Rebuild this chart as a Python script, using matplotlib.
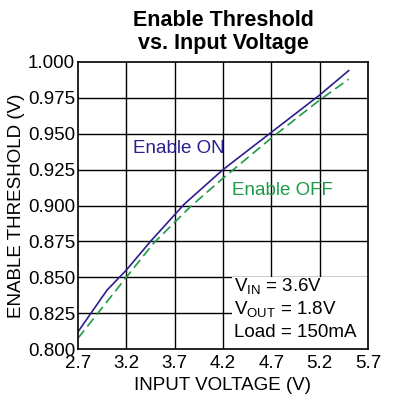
import matplotlib
matplotlib.use("Agg")
import matplotlib.pyplot as plt
from matplotlib.patches import Rectangle

plt.rcParams['font.family'] = ['Liberation Sans', 'DejaVu Sans']

on_x = [2.7, 3.0, 3.2, 3.45, 3.8, 4.2, 4.7, 5.2, 5.5]
on_y = [0.812, 0.841, 0.855, 0.875, 0.901, 0.925, 0.951, 0.977, 0.994]
off_x = [2.7, 3.2, 3.48, 3.86, 4.2, 4.7, 5.2, 5.5]
off_y = [0.8075, 0.850, 0.8736, 0.899, 0.919, 0.947, 0.9735, 0.988]

x_ticks = [2.7, 3.2, 3.7, 4.2, 4.7, 5.2, 5.7]
y_ticks = [0.800, 0.825, 0.850, 0.875, 0.900, 0.925, 0.950, 0.975, 1.000]

ON_COLOR = '#2b1f8f'
OFF_COLOR = '#1e9a48'
FS = 13.5

fig = plt.figure(figsize=(4, 4), dpi=100)
ax = fig.add_axes([78/400, 1-349/400, 290/400, 287/400])
ax.set_xlim(2.7, 5.7)
ax.set_ylim(0.8, 1.0)

for xt in x_ticks[1:-1]:
    ax.axvline(xt, color='black', lw=1.0, zorder=1)
for yt in y_ticks[1:-1]:
    ax.axhline(yt, color='black', lw=1.0, zorder=1)

ax.plot(on_x, on_y, color=ON_COLOR, lw=1.2, zorder=3)
ax.plot(off_x, off_y, color=OFF_COLOR, lw=1.2, ls=(0, (6, 3)), zorder=3)

# white box behind annotation
ax.add_patch(Rectangle((4.29, 0.8), 5.7 - 4.29, 0.8505 - 0.8, transform=ax.transData,
                       facecolor='white', edgecolor='none', zorder=2))
ax.text(4.31, 0.8435, r'V$_{\mathregular{IN}}$ = 3.6V', fontsize=FS, va='center', ha='left', zorder=4)
ax.text(4.31, 0.8270, r'V$_{\mathregular{OUT}}$ = 1.8V', fontsize=FS, va='center', ha='left', zorder=4)
ax.text(4.31, 0.8118, 'Load = 150mA', fontsize=FS, va='center', ha='left', zorder=4)

ax.text(3.265, 0.940, 'Enable ON', color=ON_COLOR, fontsize=FS, va='center', ha='left', zorder=4)
ax.text(4.29, 0.9107, 'Enable OFF', color=OFF_COLOR, fontsize=FS, va='center', ha='left', zorder=4)

ax.set_xticks(x_ticks)
ax.set_xticklabels([f'{v:.1f}' for v in x_ticks])
ax.set_yticks(y_ticks)
ax.set_yticklabels([f'{v:.3f}' for v in y_ticks])
ax.tick_params(axis='both', length=0, labelsize=FS)
ax.tick_params(axis='x', pad=4)
ax.tick_params(axis='y', pad=2)

for s in ax.spines.values():
    s.set_linewidth(1.2)
    s.set_color('black')
    s.set_zorder(5)

ax.set_xlabel('INPUT VOLTAGE (V)', fontsize=FS, labelpad=4)
ax.set_ylabel('ENABLE THRESHOLD (V)', fontsize=FS, labelpad=2)
ax.set_title('Enable Threshold\nvs. Input Voltage', fontsize=15.5, fontweight='bold', linespacing=1.15, pad=9)

fig.savefig('out.png', dpi=100)
